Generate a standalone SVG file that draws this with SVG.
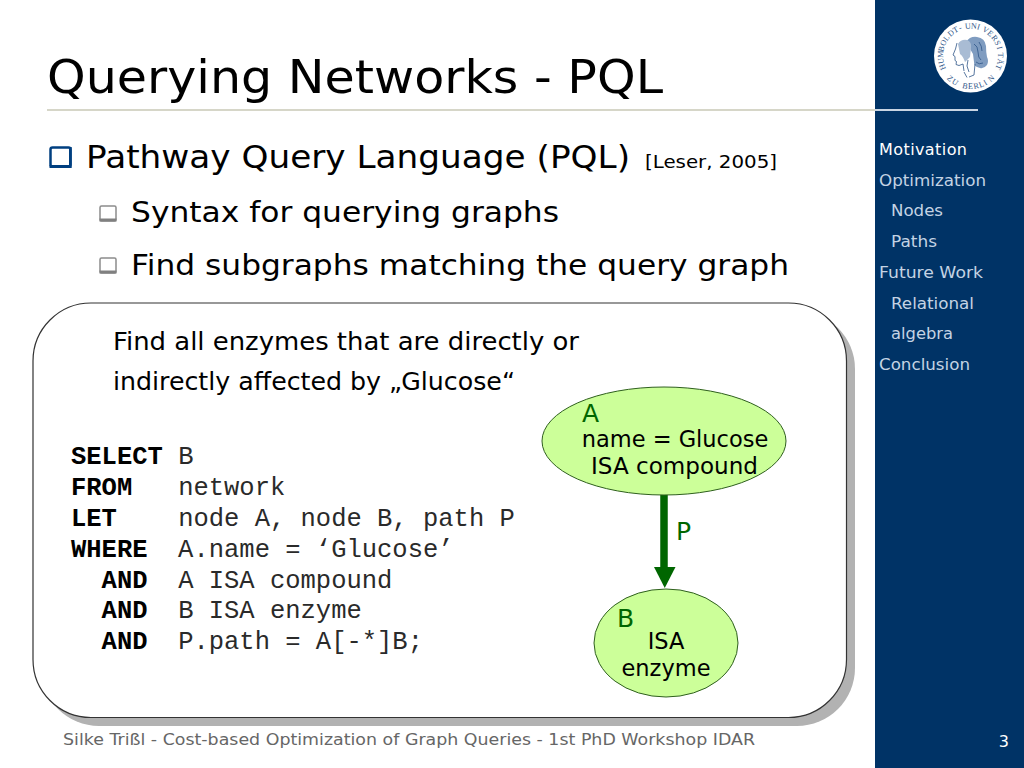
<svg xmlns="http://www.w3.org/2000/svg" width="1024" height="768" viewBox="0 0 1024 768">
<style>
text{font-family:"DejaVu Sans","Verdana",sans-serif;fill:#000}
.title{font-size:47px}
.l1{font-size:32px}
.l2{font-size:29px}
.body{font-size:24px}
.code{font-family:"Liberation Mono","Courier New",monospace;font-size:25.500px;fill:#2a2a2a}
.kw{font-weight:bold;fill:#000}
.nav{font-size:16px;fill:#c4d3e4}
.node{fill:#ccff99;stroke:#2f5f1f;stroke-width:1}
.nl{font-size:22.500px;text-anchor:middle}
.gl{font-size:25px;fill:#006600}
.ring{font-family:"Liberation Serif",serif;font-size:8px;fill:#2f5688}
.face{stroke:#2f5688;stroke-width:.8;fill:none}
</style>
<rect width="1024" height="768" fill="#fff"/>
<g id="sidebar">
<rect x="875" width="149" height="768" fill="#003366"/>
<text class="nav" x="879" y="155" textLength="88" style="fill:#fff">Motivation</text>
<text class="nav" x="879" y="186" textLength="107" lengthAdjust="spacingAndGlyphs">Optimization</text>
<text class="nav" x="891" y="216" textLength="52" lengthAdjust="spacingAndGlyphs">Nodes</text>
<text class="nav" x="891" y="247" textLength="46" lengthAdjust="spacingAndGlyphs">Paths</text>
<text class="nav" x="879" y="278" textLength="104" lengthAdjust="spacingAndGlyphs">Future Work</text>
<text class="nav" x="891" y="309" textLength="83" lengthAdjust="spacingAndGlyphs">Relational</text>
<text class="nav" x="891" y="339" textLength="62" lengthAdjust="spacingAndGlyphs">algebra</text>
<text class="nav" x="879" y="370" textLength="91" lengthAdjust="spacingAndGlyphs">Conclusion</text>
<text x="1009" y="747" text-anchor="end" style="font-size:16px;fill:#fff">3</text>
</g>
<g id="seal">
<circle cx="970.500" cy="56" r="36.500" fill="#fff"/>
<text class="ring" x="945.95 943.88 942.94 943.16 944.54 947.03 950.5 954.82 959.81 965.23 970.79 976.43 981.82 986.74 990.97 994.32 996.68 997.92 998 996.93" y="68.63 63.33 57.73 52.05 46.54 41.44 36.97 33.28 30.56 28.89 28.39 29.04 30.82 33.67 37.44 42.02 47.19 52.73 58.41 63.99" rotate="-112 -100.2 -88.4 -76.6 -64.8 -53 -41.2 -29.4 -17.6 -5.8 5.8 17.6 29.4 41.2 53 64.8 76.6 88.4 100.2 112">HUMBOLDT-UNIVERSITÄT</text>
<text class="ring" x="946.56 951.13 956.34 962.03 968 974.05 980 985.61 990.72" y="78.85 82.83 85.91 87.99 89 88.91 87.71 85.45 82.19" rotate="42 31.5 21 10.5 0 -10.5 -21 -31.5 -42">ZU BERLIN</text>
<path d="M966 42q4-6 11-5q8 1 9 9q0 6 1 11q2 4 0 8q-3 4-7 3l-3-1q-3-1-3-5l-1-8z" fill="#7f9cc0"/>
<path d="M958 44q3-5 9-4q5 2 4 8l-1 9l-5 5q-2-6-5-8z" fill="#a9bcd4"/>
<path class="face" d="M957 43l-1.500 6l-2.500 6l2 1.500l0 4l1.500 1l-.5 3l3 1l4-1.500l1 7"/>
<path class="face" d="M964 72l3 5.500M975 64l-1 11l-5 2M968 60l-1 6l2 6"/>
<path d="M974 44q4 2 4 8t3 8M979 42q3 4 3 9M976 62q3 3 7 1" stroke="#2f5688" stroke-width=".8" fill="none"/>
</g>
<g id="header">
<text class="title" x="47" y="93" textLength="616" lengthAdjust="spacingAndGlyphs">Querying Networks - PQL</text>
<rect x="47" y="109" width="828" height="2" fill="#d6d6c8"/>
<rect x="875" y="109" width="103" height="2" fill="#c9d5e3"/>
</g>
<g id="bullets">
<rect x="50.500" y="147.500" width="20" height="19" rx="2" fill="#fff" stroke="#003f80" stroke-width="2.500"/>
<path d="M49.500 165h22v3h-22zM69 147h2.700v21h-2.700z" fill="#003f80"/>
<text class="l1" x="86" y="168" textLength="544" lengthAdjust="spacingAndGlyphs">Pathway Query Language (PQL)</text>
<text x="645" y="168" style="font-size:18px" textLength="132" lengthAdjust="spacingAndGlyphs">[Leser, 2005]</text>
<rect x="100" y="206" width="16" height="15" rx="1.500" fill="#fff" stroke="#8c8c8c" stroke-width="1.500"/>
<path d="M99.500 218.500h17v3h-17z" fill="#808080"/>
<text class="l2" x="131" y="222" textLength="428" lengthAdjust="spacingAndGlyphs">Syntax for querying graphs</text>
<rect x="100" y="258" width="16" height="15" rx="1.500" fill="#fff" stroke="#8c8c8c" stroke-width="1.500"/>
<path d="M99.500 270.500h17v3h-17z" fill="#808080"/>
<text class="l2" x="131" y="275" textLength="658" lengthAdjust="spacingAndGlyphs">Find subgraphs matching the query graph</text>
</g>
<g id="panel">
<rect x="41" y="311" width="814" height="415" rx="58" fill="#b2b2b2"/>
<rect x="33" y="303" width="813.500" height="414.500" rx="58" fill="#fff" stroke="#333" stroke-width="1.200"/>
<text class="body" x="113" y="350" textLength="466" lengthAdjust="spacingAndGlyphs">Find all enzymes that are directly or</text>
<text class="body" x="113" y="390" textLength="402" lengthAdjust="spacingAndGlyphs">indirectly affected by „Glucose“</text>
</g>
<g id="query">
<text class="code" xml:space="preserve" x="71" y="464"><tspan class="kw">SELECT</tspan> B</text>
<text class="code" xml:space="preserve" x="71" y="495"><tspan class="kw">FROM</tspan>   network</text>
<text class="code" xml:space="preserve" x="71" y="526"><tspan class="kw">LET</tspan>    node A, node B, path P</text>
<text class="code" xml:space="preserve" x="71" y="557"><tspan class="kw">WHERE</tspan>  A.name = ‘Glucose’</text>
<text class="code" xml:space="preserve" x="71" y="588">  <tspan class="kw">AND</tspan>  A ISA compound</text>
<text class="code" xml:space="preserve" x="71" y="618">  <tspan class="kw">AND</tspan>  B ISA enzyme</text>
<text class="code" xml:space="preserve" x="71" y="649">  <tspan class="kw">AND</tspan>  P.path = A[-*]B;</text>
</g>
<g id="connectors">
<path d="M664 494V568" stroke="#006600" stroke-width="7.500" fill="none"/>
<path d="M654 567h21.500l-10.750 21z" fill="#006600"/>
<text class="gl" x="676" y="540">P</text>
</g>
<g id="node-a">
<ellipse class="node" cx="664" cy="441" rx="122" ry="54"/>
<text class="gl" x="582" y="422">A</text>
<text class="nl" x="675" y="447">name = Glucose</text>
<text class="nl" x="674.500" y="474" textLength="167" lengthAdjust="spacingAndGlyphs">ISA compound</text>
</g>
<g id="node-b">
<ellipse class="node" cx="666" cy="643" rx="72" ry="54"/>
<text class="gl" x="617" y="627">B</text>
<text class="nl" x="666" y="649">ISA</text>
<text class="nl" x="666" y="676">enzyme</text>
</g>
<g id="footer">
<text x="63" y="745" style="font-size:16.500px;fill:#666" textLength="692" lengthAdjust="spacingAndGlyphs">Silke Trißl - Cost-based Optimization of Graph Queries - 1st PhD Workshop IDAR</text>
</g>
</svg>
